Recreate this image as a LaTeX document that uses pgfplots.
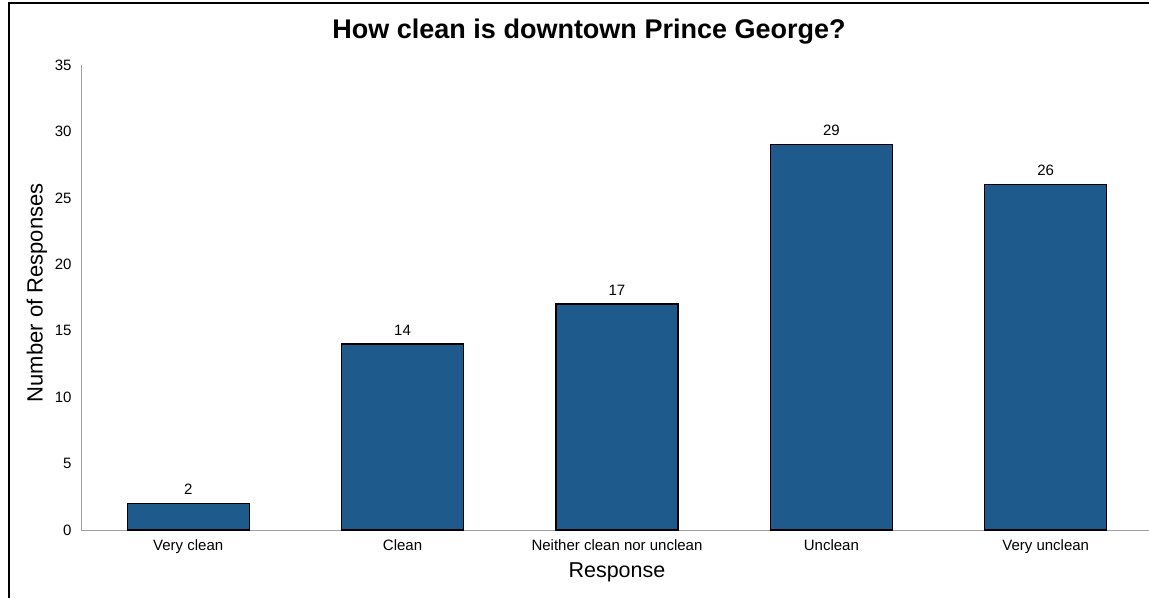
\documentclass[border=0pt]{standalone}
\usepackage{pgfplots}
\pgfplotsset{compat=1.18}
\usepackage{fontspec}
\setmainfont{Liberation Sans}
\definecolor{barblue}{RGB}{31,90,140}
\definecolor{axisgray}{RGB}{160,160,160}
\pgfplotstableread{
x y
0 2
1 14
2 17
3 29
4 26
}\datatable
\begin{document}
\begin{tikzpicture}[x=1pt,y=1pt]
\useasboundingbox (0,0) rectangle (1149,598);
\draw[line width=2pt] (9,0) -- (9,594.5) -- (1149,594.5);
\begin{axis}[
  at={(81pt,68pt)}, anchor=south west, scale only axis,
  width=1072pt, height=465pt,
  xmin=-0.5, xmax=4.5, ymin=0, ymax=35,
  axis x line*=bottom, axis y line*=left,
  axis line style={axisgray, line width=1pt},
  xtick={0,1,2,3,4},
  xticklabels={Very clean, Clean, Neither clean nor unclean, Unclean, Very unclean},
  ytick={0,5,10,15,20,25,30,35},
  major tick length=0pt,
  tick style={draw=none},
  ticklabel style={font=\fontsize{15}{18}\selectfont},
  yticklabel style={xshift=-6pt},
  xticklabel style={yshift=-6pt},
  /pgf/number format/assume math mode=true,
  ybar, bar width=122pt,
  nodes near coords,
  nodes near coords style={font=\fontsize{15}{18}\selectfont, black, yshift=5pt},
  xlabel={Response}, ylabel={Number of Responses},
  xlabel style={font=\fontsize{21.5}{24}\selectfont, at={(axis description cs:0.5,-0.09)}, anchor=center},
  ylabel style={font=\fontsize{22}{24}\selectfont, at={(axis description cs:-0.0412,0.51)}, anchor=center},
]
\addplot[fill=barblue, draw=black, line width=1.3pt] table[x=x,y=y] {\datatable};
\end{axis}
\node[font=\fontsize{27}{30}\selectfont\bfseries] at (589,566) {How clean is downtown Prince George?};
\end{tikzpicture}
\end{document}
